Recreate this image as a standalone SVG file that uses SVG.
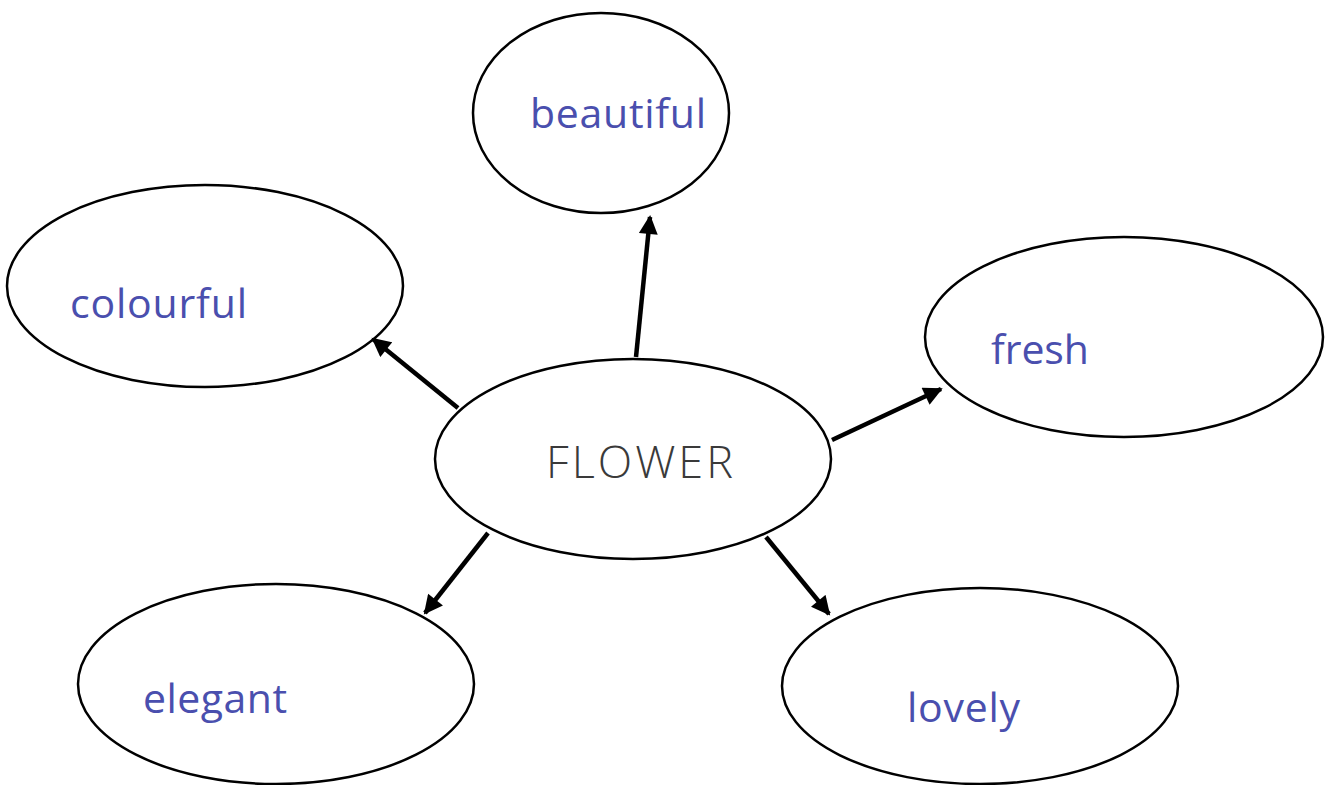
<svg xmlns="http://www.w3.org/2000/svg" width="1332" height="785" viewBox="0 0 1332 785">
<style>
.node ellipse{fill:#fff;stroke:#000;stroke-width:2.5}
.lbl{font-family:"Open Sans","Noto Sans",sans-serif;font-size:41px;fill:#4a4fae}
.center{font-family:"Open Sans","Noto Sans",sans-serif;font-size:45px;font-weight:300;fill:#3a3a3a}
.conn line{stroke:#000;stroke-width:4.5}
</style>
<defs>
<marker id="ah" viewBox="0 0 10 10" refX="9" refY="5" markerWidth="4.6" markerHeight="4.2" orient="auto" markerUnits="strokeWidth">
<path d="M0,0 L10,5 L0,10 Z" fill="#000"/>
</marker>
</defs>
<rect width="1332" height="785" fill="#fff"/>
<g id="beautiful" class="node"><ellipse cx="601" cy="113" rx="128" ry="100"/><text class="lbl" x="530" y="128" textLength="176">beautiful</text></g>
<g id="colourful" class="node"><ellipse cx="205" cy="286" rx="198" ry="101"/><text class="lbl" x="70" y="318" textLength="177">colourful</text></g>
<g id="fresh" class="node"><ellipse cx="1124" cy="337" rx="199" ry="100"/><text class="lbl" x="991" y="364" textLength="98">fresh</text></g>
<g id="flower" class="node"><ellipse cx="633" cy="459" rx="198" ry="100"/><text class="center" x="546" y="478" textLength="187">FLOWER</text></g>
<g id="elegant" class="node"><ellipse cx="276" cy="684" rx="198" ry="100"/><text class="lbl" x="143" y="713" textLength="144">elegant</text></g>
<g id="lovely" class="node"><ellipse cx="980" cy="686" rx="198" ry="98"/><text class="lbl" x="907" y="722" textLength="113">lovely</text></g>
<g id="connectors" class="conn">
<line x1="458" y1="408" x2="373" y2="339" marker-end="url(#ah)"/>
<line x1="636" y1="357" x2="650" y2="217" marker-end="url(#ah)"/>
<line x1="832" y1="440" x2="941" y2="389" marker-end="url(#ah)"/>
<line x1="488" y1="533" x2="425" y2="613" marker-end="url(#ah)"/>
<line x1="766" y1="537" x2="829" y2="614" marker-end="url(#ah)"/>
</g>
</svg>
